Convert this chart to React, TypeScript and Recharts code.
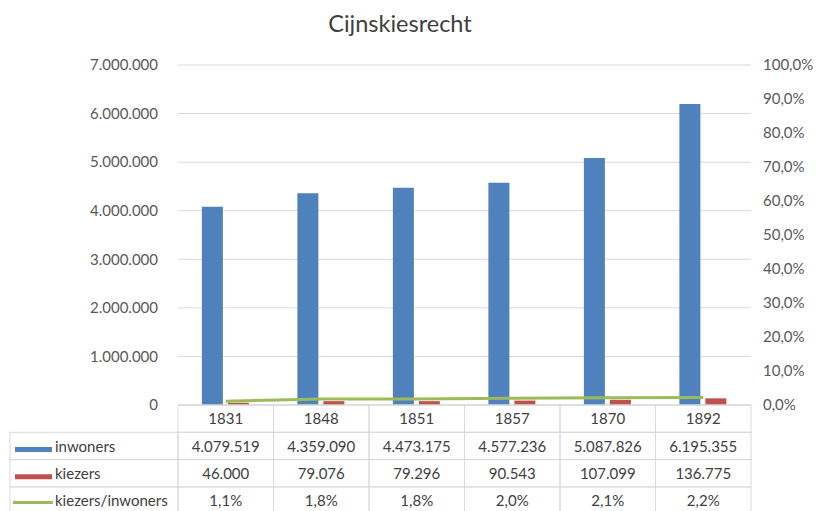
import React from 'react';
import { ComposedChart, Bar, Line, XAxis, YAxis, CartesianGrid } from 'recharts';

const title = 'Cijnskiesrecht';
const years = ['1831', '1848', '1851', '1857', '1870', '1892'];
const inwoners = [4079519, 4359090, 4473175, 4577236, 5087826, 6195355];
const kiezers = [46000, 79076, 79296, 90543, 107099, 136775];
const ratio = [1.1, 1.8, 1.8, 2.0, 2.1, 2.2];
const leftTicks = [0, 1000000, 2000000, 3000000, 4000000, 5000000, 6000000, 7000000];
const rightTicks = [0, 10, 20, 30, 40, 50, 60, 70, 80, 90, 100];
const seriesNames = ['inwoners', 'kiezers', 'kiezers/inwoners'];

const BLUE = '#4F81BD';
const RED = '#C0504D';
const GREEN = '#9BBB59';
const BORDER = '#d9d9d9';
const TEXT = '#404040';
const AXIS_TEXT = '#595959';
const FONT = 'Lato, "Open Sans", sans-serif';
const ROW_H = 27.3;
const FS = 15;

const data = years.map((y, i) => ({ year: y, inwoners: inwoners[i], kiezers: kiezers[i], ratio: ratio[i] }));

const fmtInt = (v: number) => String(v).replace(/\B(?=(\d{3})+(?!\d))/g, '.');
const fmtPct = (v: number) => v.toFixed(1).replace('.', ',') + '%';

function TableTick(props: any) {
  const { x, y, payload } = props;
  const i: number = payload.index ?? props.index ?? 0;
  const half: number = payload.offset || 47.75;
  const left = x - half;
  const cells = [String(payload.value), fmtInt(inwoners[i]), fmtInt(kiezers[i]), fmtPct(ratio[i])];
  const labelLeft = 10;
  return (
    <g>
      {cells.map((t, r) => (
        <g key={r}>
          <rect x={left} y={y + r * ROW_H} width={2 * half} height={ROW_H} fill="none" stroke={BORDER} strokeWidth={1} />
          <text
            x={x}
            y={y + r * ROW_H + ROW_H / 2 + 2}
            textAnchor="middle"
            dominantBaseline="middle"
            fontFamily={FONT}
            fontSize={FS}
            fill={TEXT}
          >
            {t}
          </text>
        </g>
      ))}
      {i === 0 &&
        seriesNames.map((name, r) => {
          const top = y + (r + 1) * ROW_H;
          const cy = top + ROW_H / 2 + 2;
          return (
            <g key={name}>
              <rect x={labelLeft} y={top} width={left - labelLeft} height={ROW_H} fill="none" stroke={BORDER} strokeWidth={1} />
              {r === 0 && <rect x={15} y={cy - 1} width={37} height={5} fill={BLUE} />}
              {r === 1 && <rect x={15} y={cy - 1} width={37} height={5} fill={RED} />}
              {r === 2 && <line x1={13} x2={53} y1={cy} y2={cy} stroke={GREEN} strokeWidth={3} />}
              <text x={55} y={cy} dominantBaseline="middle" fontFamily={FONT} fontSize={FS} fill={TEXT}>
                {name}
              </text>
            </g>
          );
        })}
    </g>
  );
}

export default function App() {
  return (
    <div style={{ position: 'absolute', left: 0, top: 0, width: 816, height: 511, background: '#fff' }}>
      <div
        style={{
          position: 'absolute',
          left: 0,
          top: 9,
          width: 800,
          textAlign: 'center',
          fontFamily: FONT,
          fontSize: 23.5,
          color: TEXT,
        }}
      >
        {title}
      </div>
      <ComposedChart
        width={816}
        height={511}
        data={data}
        margin={{ top: 65, right: 0, bottom: 0, left: 0 }}
        barCategoryGap="25%"
        barGap={5}
      >
        <CartesianGrid yAxisId="left" vertical={false} stroke={BORDER} horizontalValues={leftTicks} />
        <XAxis
          dataKey="year"
          height={106}
          tickSize={0}
          tickMargin={0}
          tickLine={false}
          axisLine={{ stroke: BORDER }}
          tick={<TableTick />}
          interval={0}
        />
        <YAxis
          yAxisId="left"
          orientation="left"
          width={178}
          domain={[0, 7000000]}
          ticks={leftTicks}
          tickFormatter={(v: number) => fmtInt(v)}
          axisLine={false}
          tickLine={false}
          tickSize={0}
          tickMargin={20}
          tick={{ fill: AXIS_TEXT, fontSize: FS, fontFamily: FONT }}
        />
        <YAxis
          yAxisId="right"
          orientation="right"
          width={65}
          domain={[0, 100]}
          ticks={rightTicks}
          tickFormatter={(v: number) => fmtPct(v)}
          axisLine={false}
          tickLine={false}
          tickSize={0}
          tickMargin={12}
          tick={{ fill: AXIS_TEXT, fontSize: FS, fontFamily: FONT, textAnchor: 'start' }}
        />
        <Bar yAxisId="left" dataKey="inwoners" fill={BLUE} isAnimationActive={false} />
        <Bar yAxisId="left" dataKey="kiezers" fill={RED} isAnimationActive={false} />
        <Line
          yAxisId="right"
          type="linear"
          dataKey="ratio"
          stroke={GREEN}
          strokeWidth={3}
          dot={false}
          isAnimationActive={false}
        />
      </ComposedChart>
    </div>
  );
}
